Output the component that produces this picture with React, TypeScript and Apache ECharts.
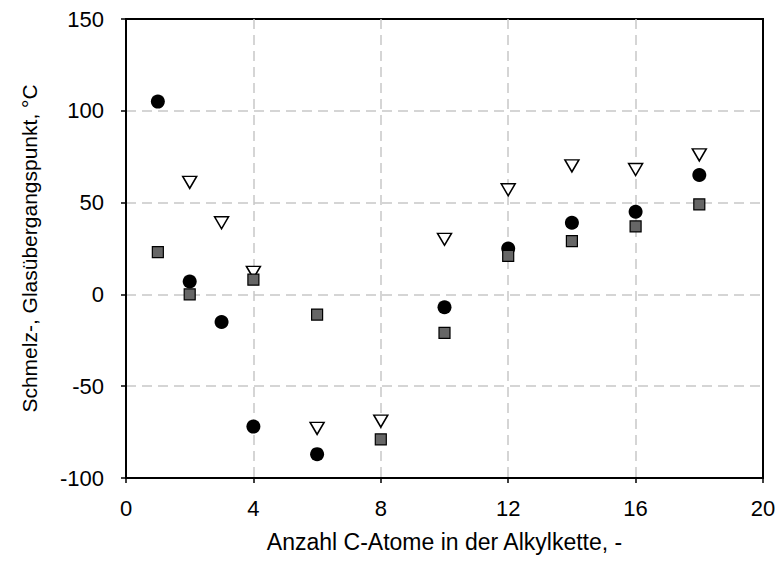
import React, { useEffect, useRef } from "react";
import * as echarts from "echarts";

const circleX = [1, 2, 3, 4, 6, 10, 12, 14, 16, 18];
const circleY = [105, 7, -15, -72, -87, -7, 25, 39, 45, 65];

const triangleX = [2, 3, 4, 6, 8, 10, 12, 14, 16, 18];
const triangleY = [61, 39, 12, -73, -69, 30, 57, 70, 68, 76];

const squareX = [1, 2, 4, 6, 8, 10, 12, 14, 16, 18];
const squareY = [23, 0, 8, -11, -79, -21, 21, 29, 37, 49];

const xTitle = "Anzahl C-Atome in der Alkylkette, -";
const yTitle = "Schmelz-, Glasübergangspunkt, °C";

const pair = (xs: number[], ys: number[]) => xs.map((x, i) => [x, ys[i]]);

export default function App() {
  const ref = useRef<HTMLDivElement>(null);
  useEffect(() => {
    if (!ref.current) return;
    const chart = echarts.init(ref.current, null, { renderer: "svg" });
    const font = "'Liberation Sans', Arial, sans-serif";
    const split = {
      show: true,
      showMinLine: false,
      showMaxLine: false,
      lineStyle: { color: "#c8c8c8", width: 1.5, type: [10, 6] as any },
    };
    chart.setOption({
      animation: false,
      backgroundColor: "#ffffff",
      grid: {
        left: 126, top: 19, right: 15, bottom: 91,
        containLabel: false,
        outerBoundsMode: "none",
        show: true, borderColor: "#000", borderWidth: 2, backgroundColor: "transparent",
      },
      xAxis: {
        type: "value",
        min: 0,
        max: 20,
        interval: 4,
        name: xTitle,
        nameLocation: "middle",
        nameGap: 52,
        nameTextStyle: { fontFamily: font, fontSize: 23, color: "#000", verticalAlign: "top" },
        axisLine: { show: true, onZero: false, lineStyle: { color: "#000", width: 2 } },
        axisTick: { show: true, length: 5, lineStyle: { color: "#000", width: 1.5 } },
        axisLabel: { fontFamily: font, fontSize: 22, color: "#000", margin: 19 },
        splitLine: split,
      },
      yAxis: {
        type: "value",
        min: -100,
        max: 150,
        interval: 50,
        name: yTitle,
        nameLocation: "middle",
        nameGap: 86,
        nameTextStyle: { fontFamily: font, fontSize: 21, color: "#000" },
        axisLine: { show: true, onZero: false, lineStyle: { color: "#000", width: 2 } },
        axisTick: { show: true, length: 5, lineStyle: { color: "#000", width: 1.5 } },
        axisLabel: { fontFamily: font, fontSize: 22, color: "#000", margin: 22 },
        splitLine: split,
      },
      series: [
        {
          type: "scatter",
          data: pair(circleX, circleY),
          symbol: "circle",
          symbolSize: 14,
          itemStyle: { color: "#000", opacity: 1 },
        },
        {
          type: "scatter",
          data: pair(triangleX, triangleY),
          symbol: "path://M0,0 L14,0 L7,12 Z",
          symbolSize: [14, 12],
          itemStyle: { color: "#fff", borderColor: "#000", borderWidth: 1.5, opacity: 1 },
        },
        {
          type: "scatter",
          data: pair(squareX, squareY),
          symbol: "rect",
          symbolSize: 11,
          itemStyle: { color: "#666", borderColor: "#000", borderWidth: 1.2, opacity: 1 },
        },
      ],
    });
    return () => chart.dispose();
  }, []);
  return <div ref={ref} style={{ position: "absolute", left: 0, top: 0, width: 778, height: 569 }} />;
}
